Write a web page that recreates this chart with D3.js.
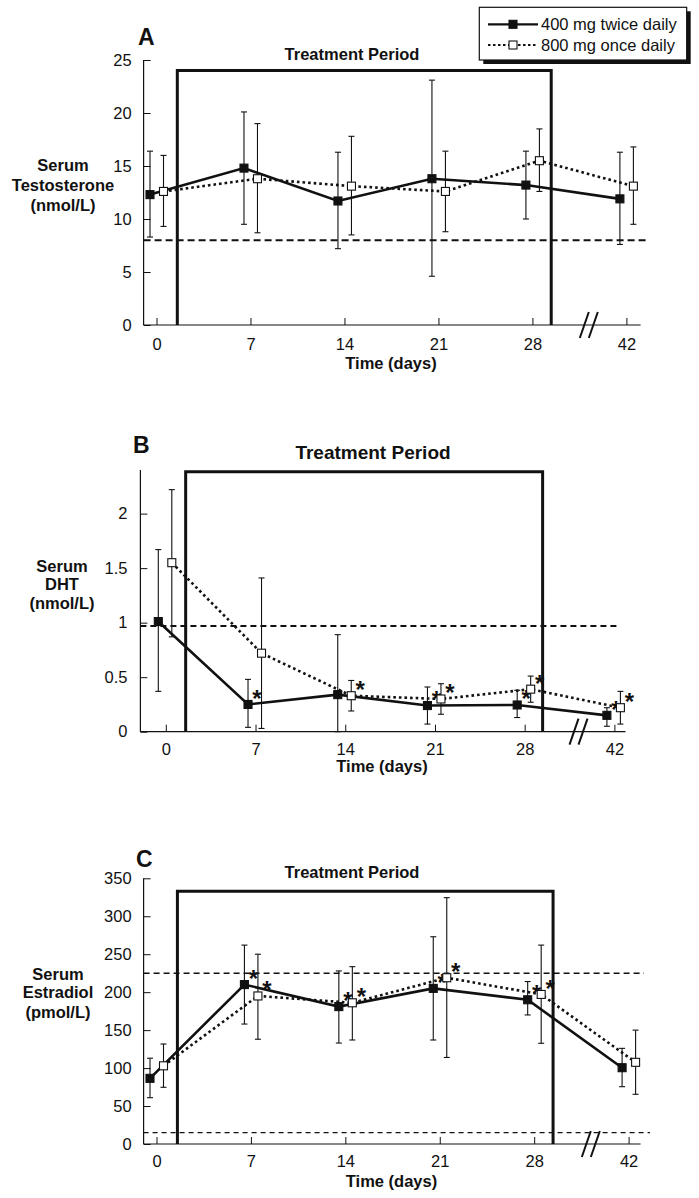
<!DOCTYPE html>
<html>
<head>
<meta charset="utf-8">
<script src="https://cdn.jsdelivr.net/npm/d3@7"></script>
<style>
  html, body { margin: 0; padding: 0; background: #fff; }
  svg { display: block; font-family: "Liberation Sans", Arial, Helvetica, sans-serif; }
</style>
</head>
<body>
<svg id="chart" width="699" height="1198"></svg>
<script>
// ---------- DATA ----------
const days = [0, 7, 14, 21, 28, 42];
const dayLabels = ["0", "7", "14", "21", "28", "42"];
const seriesNames = ["400 mg twice daily", "800 mg once daily"];

// Panel A: Serum Testosterone (nmol/L)
const testTwice   = [12.3, 14.8, 11.7, 13.8, 13.2, 11.9];
const testTwiceHi = [16.4, 20.1, 16.3, 23.1, 16.4, 16.3];
const testTwiceLo = [8.3, 9.5, 7.2, 4.6, 10.0, 7.6];
const testOnce    = [12.6, 13.8, 13.1, 12.6, 15.5, 13.1];
const testOnceHi  = [16.0, 19.0, 17.8, 16.4, 18.5, 16.8];
const testOnceLo  = [9.3, 8.7, 8.5, 8.8, 12.6, 9.5];
const testRefs    = [8];
const testTicks   = [0, 5, 10, 15, 20, 25];

// Panel B: Serum DHT (nmol/L)
const dhtTwice   = [1.01, 0.25, 0.34, 0.24, 0.245, 0.15];
const dhtTwiceHi = [1.67, 0.48, 0.89, 0.41, 0.38, 0.22];
const dhtTwiceLo = [0.37, 0.04, 0.0, 0.07, 0.13, 0.05];
const dhtOnce    = [1.55, 0.72, 0.33, 0.30, 0.39, 0.22];
const dhtOnceHi  = [2.22, 1.41, 0.47, 0.44, 0.51, 0.37];
const dhtOnceLo  = [0.87, 0.03, 0.19, 0.16, 0.27, 0.07];
const dhtTwiceSig = [0, 1, 0, 1, 1, 1];
const dhtOnceSig  = [0, 0, 1, 1, 1, 1];
const dhtRefs    = [0.97];
const dhtTicks   = [0, 0.5, 1, 1.5, 2];

// Panel C: Serum Estradiol (pmol/L)
const e2Twice   = [86.5, 210, 181, 205, 190, 100.5];
const e2TwiceHi = [113, 262, 228, 273, 214, 126];
const e2TwiceLo = [61, 158, 133, 137, 170, 75.5];
const e2Once    = [103, 195, 186, 219, 197, 107.6];
const e2OnceHi  = [131.7, 250, 233.6, 324.5, 262, 150];
const e2OnceLo  = [74.7, 138, 137, 114, 132.7, 65.5];
const e2TwiceSig = [0, 1, 1, 1, 1, 0];
const e2OnceSig  = [0, 1, 1, 1, 1, 0];
const e2Refs     = [225, 15];
const e2Ticks    = [0, 50, 100, 150, 200, 250, 300, 350];

// treatment period (days)
const treatStart = 1.55;
const treatEnd = 29.4;

// ---------- DRAW ----------
const svg = d3.select("#chart");
const FONT = '"Liberation Sans", Arial, Helvetica, sans-serif';
// broken axis: day 42 sits one 7-day step after day 28
const axisUnit = d => d > 28 ? 35 : d;

function drawPanel(cfg) {
  const L = cfg.layout;
  const x = d3.scaleLinear().domain([0, 35]).range([L.tick0, L.tickLast]);
  const y = d3.scaleLinear().domain([0, cfg.yMax]).range([L.yBottom, L.yTop]);
  const g = svg.append("g");

  // reference dashed lines
  cfg.refs.forEach((r, i) => {
    g.append("line")
      .attr("x1", L.left).attr("x2", L.refEnd[i])
      .attr("y1", y(r)).attr("y2", y(r))
      .attr("stroke", "#111").attr("stroke-width", L.refWidth[i])
      .attr("stroke-dasharray", L.refDash[i]);
  });

  // treatment period box
  g.append("path")
    .attr("d", d3.line()([
      [x(treatStart), y(0)], [x(treatStart), y(cfg.treatTop)],
      [x(treatEnd), y(cfg.treatTop)], [x(treatEnd), y(0)]
    ]))
    .attr("fill", "none").attr("stroke", "#111").attr("stroke-width", 3)
    .attr("stroke-linejoin", "miter");

  g.append("text")
    .attr("x", L.titleX).attr("y", L.titleY)
    .attr("text-anchor", "middle")
    .attr("font-weight", "bold").attr("font-size", L.titleSize)
    .attr("fill", "#111")
    .text(cfg.title);

  // axes
  const yAxis = d3.axisLeft(y).tickValues(cfg.yTicks).tickFormat(d3.format(""))
    .tickSizeInner(-7).tickSizeOuter(0).tickPadding(L.yPad);
  const ya = g.append("g").attr("transform", `translate(${L.left},0)`).call(yAxis);
  ya.select(".domain").remove();
  ya.selectAll("line").attr("stroke", "#111").attr("stroke-width", 1);
  ya.selectAll("text").attr("font-size", L.tickSize).attr("fill", "#111")
    .attr("font-family", FONT);
  g.append("line").attr("x1", L.left).attr("x2", L.left)
    .attr("y1", y(0)).attr("y2", y(cfg.yMax))
    .attr("stroke", "#111").attr("stroke-width", 1.2);

  const xAxis = d3.axisBottom(x).tickValues(days.map(axisUnit))
    .tickFormat((d, i) => dayLabels[i])
    .tickSizeInner(-7).tickSizeOuter(0).tickPadding(L.xPad);
  const xa = g.append("g").attr("transform", `translate(0,${y(0)})`).call(xAxis);
  xa.select(".domain").remove();
  xa.selectAll("line").attr("stroke", "#111").attr("stroke-width", 1);
  xa.selectAll("text").attr("font-size", L.tickSize).attr("fill", "#111")
    .attr("font-family", FONT);
  g.append("line").attr("x1", L.left).attr("x2", L.right)
    .attr("y1", y(0)).attr("y2", y(0))
    .attr("stroke", "#111").attr("stroke-width", 1.2);

  // axis break marks
  const bx = x(32.2), by = y(0);
  [-4.5, 4.5].forEach(o => {
    g.append("line")
      .attr("x1", bx + o - 4.5).attr("y1", by + 13)
      .attr("x2", bx + o + 4.5).attr("y2", by - 13)
      .attr("stroke", "#111").attr("stroke-width", 2);
  });

  // axis titles
  g.append("text").attr("x", L.xTitleX).attr("y", L.xTitleY)
    .attr("text-anchor", "middle").attr("font-weight", "bold")
    .attr("font-size", 16.5).attr("fill", "#111").text("Time (days)");
  cfg.yTitle.forEach((t, i) => {
    g.append("text").attr("x", L.yTitleX).attr("y", L.yTitleY[i])
      .attr("text-anchor", "middle").attr("font-weight", "bold")
      .attr("font-size", 16.5).attr("fill", "#111").text(t);
  });
  g.append("text").attr("x", L.letterX).attr("y", L.letterY)
    .attr("font-weight", "bold").attr("font-size", 23).attr("fill", "#111")
    .text(cfg.letter);

  // series
  cfg.series.forEach(s => {
    const off = s.filled ? L.offFilled : L.offOpen;
    const pts = days.map((d, i) => ({
      cx: x(axisUnit(d)) + off, v: s.values[i], hi: s.hi[i], lo: s.lo[i],
      sig: s.sig ? s.sig[i] : 0
    }));
    s.pts = pts;
    g.append("path")
      .attr("d", d3.line().x(p => p.cx).y(p => y(p.v))(pts))
      .attr("fill", "none").attr("stroke", "#111")
      .attr("stroke-width", 2.6)
      .attr("stroke-dasharray", s.filled ? null : "2.6,3");
  });
  cfg.series.forEach(s => {
    s.pts.forEach(p => {
      g.append("line").attr("x1", p.cx).attr("x2", p.cx)
        .attr("y1", y(p.hi)).attr("y2", y(p.lo))
        .attr("stroke", "#111").attr("stroke-width", 1.1);
      [p.hi, p.lo].forEach(v => {
        g.append("line").attr("x1", p.cx - 3).attr("x2", p.cx + 3)
          .attr("y1", y(v)).attr("y2", y(v))
          .attr("stroke", "#111").attr("stroke-width", 1.1);
      });
    });
  });
  cfg.series.forEach(s => {
    s.pts.forEach(p => {
      g.append("rect").attr("x", p.cx - 4).attr("y", y(p.v) - 4)
        .attr("width", 8).attr("height", 8)
        .attr("fill", s.filled ? "#111" : "#fff")
        .attr("stroke", "#111").attr("stroke-width", 1.1);
      if (p.sig) {
        g.append("text").attr("x", p.cx + 9).attr("y", y(p.v) + 2.5)
          .attr("text-anchor", "middle").attr("font-weight", "bold")
          .attr("font-size", 24).attr("fill", "#111").text("*");
      }
    });
  });
}

drawPanel({
  letter: "A", title: "Treatment  Period",
  yTitle: ["Serum", "Testosterone", "(nmol/L)"],
  yMax: 25, yTicks: testTicks, treatTop: 24, refs: testRefs,
  series: [
    { filled: true, values: testTwice, hi: testTwiceHi, lo: testTwiceLo },
    { filled: false, values: testOnce, hi: testOnceHi, lo: testOnceLo }
  ],
  layout: {
    left: 143.6, right: 640.6, tick0: 156.5, tickLast: 626.4, yBottom: 325, yTop: 60,
    offFilled: -6.5, offOpen: 7, refEnd: [646], refWidth: [2], refDash: ["7,4"],
    titleX: 352, titleY: 60, titleSize: 16.5, yPad: 12, xPad: 13, tickSize: 16.5,
    xTitleX: 391, xTitleY: 369, yTitleX: 63, yTitleY: [171, 191, 211],
    letterX: 138, letterY: 45
  }
});

drawPanel({
  letter: "B", title: "Treatment Period",
  yTitle: ["Serum", "DHT", "(nmol/L)"],
  yMax: 2.4, yTicks: dhtTicks, treatTop: 2.385, refs: dhtRefs,
  series: [
    { filled: true, values: dhtTwice, hi: dhtTwiceHi, lo: dhtTwiceLo, sig: dhtTwiceSig },
    { filled: false, values: dhtOnce, hi: dhtOnceHi, lo: dhtOnceLo, sig: dhtOnceSig }
  ],
  layout: {
    left: 140.4, right: 625.5, tick0: 165.8, tickLast: 614.4, yBottom: 731.7, yTop: 470,
    offFilled: -7.5, offOpen: 6, refEnd: [620], refWidth: [2], refDash: ["6,4"],
    titleX: 373, titleY: 459, titleSize: 19, yPad: 13, xPad: 12, tickSize: 16.5,
    xTitleX: 382, xTitleY: 772, yTitleX: 62, yTitleY: [572, 590, 609],
    letterX: 133, letterY: 453
  }
});

drawPanel({
  letter: "C", title: "Treatment  Period",
  yTitle: ["Serum", "Estradiol", "(pmol/L)"],
  yMax: 350, yTicks: e2Ticks, treatTop: 333, refs: e2Refs,
  series: [
    { filled: true, values: e2Twice, hi: e2TwiceHi, lo: e2TwiceLo, sig: e2TwiceSig },
    { filled: false, values: e2Once, hi: e2OnceHi, lo: e2OnceLo, sig: e2OnceSig }
  ],
  layout: {
    left: 143.6, right: 640.6, tick0: 156.5, tickLast: 628.6, yBottom: 1144, yTop: 878.3,
    offFilled: -6.5, offOpen: 7, refEnd: [644, 650], refWidth: [1.6, 1.3], refDash: ["6,4", "5,4"],
    titleX: 352, titleY: 878, titleSize: 16.5, yPad: 12, xPad: 11, tickSize: 16.5,
    xTitleX: 391.5, xTitleY: 1187, yTitleX: 58, yTitleY: [980, 998, 1018],
    letterX: 136, letterY: 867
  }
});

// ---------- LEGEND ----------
const lg = svg.append("g");
lg.append("rect").attr("x", 483.3).attr("y", 11.3).attr("width", 207.4).attr("height", 52.7)
  .attr("fill", "#111");
lg.append("rect").attr("x", 479.3).attr("y", 7.3).attr("width", 207.4).attr("height", 52.7)
  .attr("fill", "#fff").attr("stroke", "#111").attr("stroke-width", 1.2);
const legendY = d3.scalePoint().domain(seriesNames).range([24.3, 45]);
seriesNames.forEach((name, i) => {
  const yy = legendY(name);
  lg.append("line").attr("x1", 488).attr("x2", 538).attr("y1", yy).attr("y2", yy)
    .attr("stroke", "#111").attr("stroke-width", i === 0 ? 2.2 : 2)
    .attr("stroke-dasharray", i === 0 ? null : "2.5,2.5");
  lg.append("rect").attr("x", 509).attr("y", yy - 4).attr("width", 8).attr("height", 8)
    .attr("fill", i === 0 ? "#111" : "#fff").attr("stroke", "#111").attr("stroke-width", 1.1);
  lg.append("text").attr("x", 541).attr("y", yy).attr("dy", "0.36em")
    .attr("font-size", 16.5).attr("fill", "#111").text(name);
});
</script>
</body>
</html>
